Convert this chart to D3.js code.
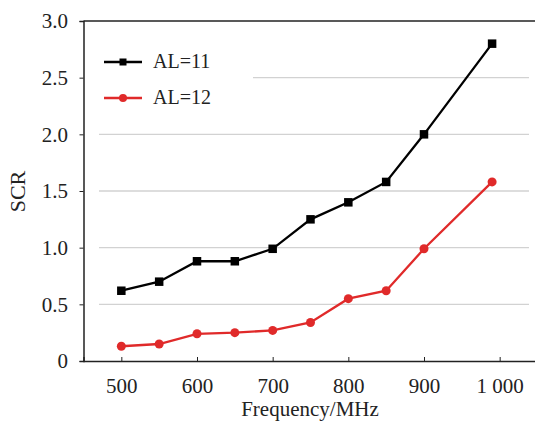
<!DOCTYPE html>
<html><head><meta charset="utf-8">
<script src="https://cdn.jsdelivr.net/npm/d3@7"></script>
<style>
html,body{margin:0;padding:0;background:#fff;}
svg{display:block;}
text{font-family:"Liberation Serif","Times New Roman",serif;fill:#222;}
</style></head>
<body>
<svg id="chart" width="535" height="426"></svg>
<script>
const frequencies = [500, 550, 600, 650, 700, 750, 800, 850, 900, 990];
const seriesNames = ["AL=11", "AL=12"];
const al11 = [0.62, 0.70, 0.88, 0.88, 0.99, 1.25, 1.40, 1.58, 2.00, 2.80];
const al12 = [0.13, 0.15, 0.24, 0.25, 0.27, 0.34, 0.55, 0.62, 0.99, 1.58];
const xTicks = [500, 600, 700, 800, 900, 1000];
const xTickLabels = ["500", "600", "700", "800", "900", "1 000"];
const yTicks = [0, 0.5, 1.0, 1.5, 2.0, 2.5, 3.0];
const yTickLabels = ["0", "0.5", "1.0", "1.5", "2.0", "2.5", "3.0"];
const colors = ["#000000", "#e02a2a"];

const svg = d3.select("#chart");
const mLeft = 83.5, mRight = 537.5, mTop = 21, mBottom = 361;
const x = d3.scaleLinear().domain([450, 1050]).range([mLeft, mRight]);
const y = d3.scaleLinear().domain([0, 3]).range([mBottom, mTop]);
const FONT = '"Liberation Serif","Times New Roman",serif';

// gridlines
svg.append("g").selectAll("line").data(yTicks.filter(d => d > 0 && d < 3)).join("line")
  .attr("x1", 99).attr("x2", 529)
  .attr("y1", d => y(d)).attr("y2", d => y(d))
  .attr("stroke", "#d2d2d2").attr("stroke-width", 1.4);

// top border
svg.append("line").attr("x1", mLeft).attr("x2", 535).attr("y1", y(3)).attr("y2", y(3))
  .attr("stroke", "#222").attr("stroke-width", 1.5);

// y axis
const yAxis = d3.axisLeft(y).tickValues(yTicks).tickSize(4).tickPadding(11.5)
  .tickFormat((d, i) => yTickLabels[i]);
const gy = svg.append("g").attr("transform", `translate(${mLeft},0)`).call(yAxis);
gy.select(".domain").attr("stroke", "#222").attr("stroke-width", 1.5);
gy.selectAll(".tick line").attr("stroke", "#222");
gy.selectAll("text").attr("font-size", 21).attr("fill", "#222").attr("font-family", FONT);

// x axis
const xAxis = d3.axisBottom(x).tickValues(xTicks).tickSize(-4).tickPadding(17)
  .tickFormat((d, i) => xTickLabels[i]);
const gx = svg.append("g").attr("transform", `translate(0,${mBottom})`).call(xAxis);
gx.select(".domain").attr("stroke", "#222").attr("stroke-width", 1.5);
gx.selectAll(".tick line").attr("stroke", "#222");
gx.selectAll("text").attr("font-size", 21).attr("fill", "#222").attr("font-family", FONT)
  .attr("y", 32).attr("dy", null);

// axis titles
svg.append("text").attr("x", 310).attr("y", 416).attr("text-anchor", "middle")
  .attr("font-size", 21).text("Frequency/MHz");
svg.append("text").attr("transform", "translate(25,191.5) rotate(-90)")
  .attr("text-anchor", "middle").attr("font-size", 22).text("SCR");

// legend background
svg.append("rect").attr("x", 85).attr("y", 40).attr("width", 168).attr("height", 80).attr("fill", "#fff");

const data = [al11, al12];
const line = d3.line().x((d, i) => x(frequencies[i])).y(d => y(d));
data.forEach((vals, s) => {
  svg.append("path").datum(vals).attr("d", line)
    .attr("fill", "none").attr("stroke", colors[s]).attr("stroke-width", 2.3);
  const g = svg.append("g");
  if (s === 0) {
    g.selectAll("rect").data(vals).join("rect")
      .attr("x", (d, i) => x(frequencies[i]) - 4.25).attr("y", d => y(d) - 4.25)
      .attr("width", 8.5).attr("height", 8.5).attr("fill", colors[s]);
  } else {
    g.selectAll("circle").data(vals).join("circle")
      .attr("cx", (d, i) => x(frequencies[i])).attr("cy", d => y(d))
      .attr("r", 4.5).attr("fill", colors[s]);
  }
});

// legend
const legY = [62, 98];
seriesNames.forEach((name, s) => {
  svg.append("line").attr("x1", 104).attr("x2", 142).attr("y1", legY[s]).attr("y2", legY[s])
    .attr("stroke", colors[s]).attr("stroke-width", 2.3);
  if (s === 0) {
    svg.append("rect").attr("x", 119.5).attr("y", legY[s] - 3.5).attr("width", 7).attr("height", 7).attr("fill", colors[s]);
  } else {
    svg.append("circle").attr("cx", 123).attr("cy", legY[s]).attr("r", 4).attr("fill", colors[s]);
  }
  svg.append("text").attr("x", 153).attr("y", legY[s] + 6).attr("font-size", 20).text(name);
});
</script>
</body></html>
